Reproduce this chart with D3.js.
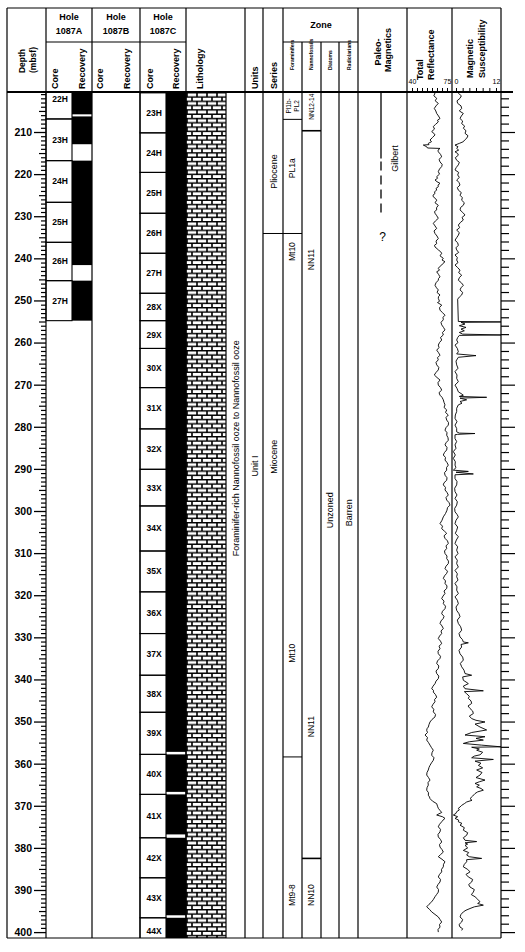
<!DOCTYPE html>
<html>
<head>
<meta charset="utf-8">
<script src="https://cdn.jsdelivr.net/npm/d3@7"></script>
<style>
  body { margin: 0; background: #fff; }
  text { font-family: "Liberation Sans", Arial, Helvetica, sans-serif; fill: #000; }
</style>
</head>
<body>
<svg id="chart" width="525" height="952"></svg>
<script>
// Site 1087 core summary, 200-400 mbsf

// cores: [name, top, bottom] in mbsf
const coresA = [['22H', 197.3, 206.9], ['23H', 206.9, 216.8], ['24H', 216.8, 226.7],
                ['25H', 226.7, 236.2], ['26H', 236.2, 245.3], ['27H', 245.3, 254.8]];
const recoveryA = [[197.3, 205.8], [206.3, 212.9], [216.8, 241.6], [245.3, 254.8]];

const coresC = [['23H', 200.7, 210.2], ['24H', 210.2, 219.6], ['25H', 219.6, 229.3],
                ['26H', 229.3, 238.8], ['27H', 238.8, 248.3], ['28X', 248.3, 254.8],
                ['29X', 254.8, 261.4], ['30X', 261.4, 270.7], ['31X', 270.7, 280.5],
                ['32X', 280.5, 290.1], ['33X', 290.1, 298.8], ['34X', 298.8, 309.5],
                ['35X', 309.5, 319.2], ['36X', 319.2, 329.1], ['37X', 329.1, 339.0],
                ['38X', 339.0, 347.8], ['39X', 347.8, 357.8], ['40X', 357.8, 367.3],
                ['41X', 367.3, 377.6], ['42X', 377.6, 387.1], ['43X', 387.1, 396.6],
                ['44X', 396.6, 406.1]];
const recoveryC = [[200.7, 357.2], [357.8, 366.7], [367.3, 376.8], [377.6, 396.0], [396.6, 406.1]];

// biostratigraphy / series
const seriesBounds = [234.1];
const seriesLabels = [['Pliocene', 219.4], ['Miocene', 287.1]];
const foramBounds = [207.0, 234.1, 358.4];
const foramLabels = [['Mt10', 238.4], ['PL1a', 218.6], ['Mt10', 333.8], ['Mt9-8', 391.2]];
const nannoBounds = [209.7, 382.5];
const nannoLabels = [['NN12-14', 204.0], ['NN11', 240.3], ['NN11', 351.2], ['NN10', 391.2]];

// paleomagnetics: solid to 216.3, dashed to 230.1
const gilbertSolid = [200.5, 216.3];
const gilbertDashed = [216.3, 230.1];

// total reflectance (%) [depth, value]
const reflectance = [
[200.6,61.5],[200.8,63.0],[201.4,61.8],[202.0,64.7],[202.6,63.2],[203.2,66.3],[203.8,64.0],[204.4,62.3],[205.0,63.8],[205.6,64.7],
[206.2,66.5],[206.8,68.0],[207.2,65.5],[207.6,66.3],[208.2,63.5],[208.7,61.3],[209.3,62.5],[209.9,59.7],[210.3,61.8],[210.7,63.0],
[211.3,60.5],[211.9,58.0],[212.3,59.5],[212.7,56.3],[213.0,57.0],[213.1,51.3],[213.5,54.7],[213.8,55.5],[213.9,68.0],[214.3,66.0],
[214.7,66.3],[215.3,68.5],[215.9,69.7],[216.5,67.0],[217.1,68.0],[217.7,70.2],[218.2,69.7],[218.8,67.5],[219.4,66.3],[220.0,67.5],
[220.6,64.7],[221.0,65.5],[221.4,63.0],[221.8,65.0],[222.2,68.0],[222.6,66.0],[223.0,66.3],[223.4,64.0],[223.8,64.7],[224.2,62.5],
[224.6,63.0],[225.0,61.0],[225.4,61.3],[225.8,63.5],[226.2,64.7],[226.8,63.0],[227.4,66.3],[228.0,64.5],[228.5,64.7],[228.9,62.5],
[229.3,63.0],[229.9,64.8],[230.5,66.3],[231.1,63.5],[231.7,61.3],[232.3,63.0],[232.9,64.7],[233.5,62.0],[234.1,63.0],[234.7,65.0],
[235.3,66.3],[235.9,64.0],[236.5,64.7],[236.9,62.5],[237.3,63.0],[237.7,65.0],[238.0,66.3],[238.4,68.5],[238.8,69.7],[239.4,68.0],
[240.0,71.3],[240.4,70.0],[240.8,73.0],[241.2,71.0],[241.6,69.7],[242.0,67.5],[242.4,66.3],[242.8,67.5],[243.2,64.7],[243.8,66.5],
[244.4,68.0],[244.8,66.5],[245.2,66.3],[245.8,64.0],[246.4,63.0],[247.0,64.5],[247.5,66.3],[248.1,65.0],[248.7,68.0],[249.1,66.5],
[249.5,66.3],[250.2,67.5],[250.5,65.5],[251.1,69.7],[251.7,67.5],[252.3,68.0],[252.9,70.5],[253.5,73.0],[254.0,71.0],[254.6,71.3],
[255.2,69.0],[255.8,69.7],[256.4,71.5],[257.0,73.0],[257.6,70.5],[258.2,71.3],[258.8,68.5],[259.4,69.7],[260.0,67.5],[260.6,66.3],
[261.2,67.0],[261.8,64.7],[262.4,66.5],[263.0,68.0],[263.6,65.5],[264.1,66.3],[264.7,64.0],[265.3,64.7],[265.9,66.8],[266.5,66.3],
[267.1,64.0],[267.7,62.3],[268.3,65.0],[268.9,68.0],[269.5,66.0],[270.1,66.3],[270.7,68.5],[271.3,69.7],[271.9,67.0],[272.5,68.0],
[273.0,70.0],[273.6,71.3],[274.2,72.0],[274.8,73.0],[275.4,72.0],[276.0,74.7],[276.6,73.5],[277.2,76.3],[277.8,74.0],[278.4,74.7],
[279.0,76.5],[279.6,76.3],[280.2,74.0],[280.8,73.0],[281.4,75.0],[282.0,74.7],[282.6,76.0],[283.2,76.3],[283.8,74.0],[284.3,73.0],
[284.9,75.0],[285.5,74.7],[286.1,72.5],[286.7,71.3],[287.3,73.5],[287.9,73.0],[288.5,75.0],[289.1,76.3],[289.7,74.5],[290.3,74.7],
[290.9,72.5],[291.5,73.0],[292.1,75.0],[292.7,74.7],[293.3,72.0],[293.8,71.3],[294.4,73.5],[295.0,73.0],[295.6,75.0],[296.2,76.3],
[296.8,74.0],[297.4,74.7],[298.0,77.0],[298.6,78.0],[299.2,75.5],[299.8,75.0],[300.6,73.5],[301.4,71.3],[302.2,70.0],[303.0,68.0],
[303.6,70.5],[304.2,69.7],[304.8,72.5],[305.3,74.7],[305.9,72.0],[306.5,73.0],[307.1,75.5],[307.7,76.3],[308.3,74.0],[308.9,74.7],
[309.5,72.5],[310.1,73.0],[310.7,75.0],[311.3,74.7],[311.9,76.5],[312.5,76.3],[313.1,74.0],[313.7,73.0],[314.3,75.5],[314.8,74.7],
[315.4,72.5],[316.0,71.3],[316.6,73.5],[317.2,73.0],[317.8,75.0],[318.4,74.7],[319.0,72.0],[319.6,73.0],[320.2,71.0],[320.8,69.7],
[321.4,72.0],[322.0,71.3],[322.6,73.5],[323.2,73.0],[323.8,70.5],[324.4,69.7],[325.0,72.0],[325.5,71.3],[326.1,69.0],[326.7,68.0],
[327.3,70.0],[327.9,71.3],[328.5,69.0],[329.1,69.7],[329.7,67.5],[330.3,66.3],[330.9,68.5],[331.5,69.7],[332.1,67.0],[332.7,68.0],
[333.3,66.0],[333.9,66.3],[334.5,68.5],[335.0,68.0],[335.6,65.5],[336.2,64.7],[336.8,66.8],[337.4,66.3],[338.0,64.0],[338.6,64.7],
[339.2,66.8],[339.8,66.3],[340.4,64.0],[341.0,63.0],[341.6,61.0],[342.2,59.7],[342.6,61.5],[343.0,61.3],[343.6,63.5],[344.2,64.7],
[344.8,62.5],[345.3,63.0],[345.9,61.0],[346.5,59.7],[347.1,61.8],[347.7,61.3],[348.3,63.5],[348.9,63.0],[349.5,60.0],[350.1,58.0],
[350.7,57.0],[351.3,56.3],[351.7,55.0],[352.1,54.7],[352.6,55.5],[353.2,53.0],[353.8,55.5],[354.4,54.7],[355.0,56.5],[355.6,58.0],
[356.2,59.5],[356.8,61.3],[357.4,60.0],[358.0,59.7],[358.6,62.0],[359.2,61.3],[359.8,59.5],[360.4,58.0],[360.9,57.0],[361.5,56.3],
[362.1,55.0],[362.7,54.7],[363.3,56.5],[363.9,58.0],[364.5,56.0],[365.1,56.3],[365.7,55.0],[366.3,54.7],[366.9,56.5],[367.5,56.3],
[367.9,57.5],[368.3,58.0],[368.9,60.5],[369.5,64.7],[370.1,65.5],[370.6,66.3],[371.1,68.0],[371.6,69.7],[371.9,67.0],[372.2,64.7],
[372.6,70.5],[373.0,73.0],[373.4,71.0],[373.8,69.7],[374.4,67.5],[375.0,66.3],[375.6,68.5],[376.2,68.0],[376.8,66.0],[377.4,66.3],
[378.0,68.5],[378.6,69.7],[379.2,67.5],[379.8,68.0],[380.4,70.0],[381.0,71.3],[381.6,68.5],[382.1,66.3],[382.7,70.0],[383.3,73.0],
[383.9,71.5],[384.5,71.3],[385.1,69.5],[385.7,69.7],[386.3,67.5],[386.9,66.3],[387.5,68.5],[388.1,68.0],[388.7,66.0],[389.3,64.7],
[389.9,66.5],[390.5,66.3],[391.1,64.5],[391.6,63.0],[392.2,61.5],[392.8,59.7],[393.4,57.0],[394.0,54.7],[394.6,57.5],[395.2,59.7],
[395.8,63.0],[396.4,66.3],[397.0,68.0],[397.6,69.7],[398.2,67.5],[398.8,68.0],[399.4,66.0],[400.0,66.3]
];

// magnetic susceptibility [depth, value]
const magSus = [
[200.6,0.5],[200.8,0.7],[201.4,1.6],[202.0,1.2],[202.6,0.3],[203.2,0.5],[203.8,1.5],[204.4,1.7],[205.0,1.0],[205.6,2.2],
[206.2,1.6],[206.8,1.2],[207.4,2.0],[208.0,1.7],[208.6,2.6],[209.1,2.2],[209.7,3.0],[210.3,2.7],[210.9,3.6],[211.5,3.2],
[211.9,2.6],[212.3,2.2],[212.7,1.0],[213.1,-0.3],[213.5,0.6],[213.9,0.2],[214.3,0.8],[214.7,-0.3],[215.1,0.5],[215.5,0.7],
[216.1,-0.2],[216.7,0.2],[217.2,1.0],[217.8,0.7],[218.4,0.1],[219.0,-0.3],[219.6,0.8],[220.2,0.5],[220.8,1.0],[221.4,0.2],
[222.0,0.9],[222.6,1.2],[223.2,0.4],[223.8,0.7],[224.4,1.6],[225.0,1.2],[225.6,1.9],[226.2,1.7],[226.8,2.5],[227.4,2.2],
[227.9,1.4],[228.5,1.2],[229.1,2.0],[229.7,2.7],[230.3,1.8],[230.9,2.2],[231.5,1.3],[232.1,0.7],[232.7,1.1],[233.3,0.2],
[233.9,1.0],[234.5,0.7],[235.1,0.2],[235.7,-0.3],[236.3,0.5],[236.9,0.7],[237.5,0.0],[238.0,0.2],[238.6,0.8],[239.2,-0.3],
[239.8,0.4],[240.4,0.2],[241.0,0.6],[241.6,-0.3],[242.2,0.5],[242.8,1.2],[243.4,0.8],[244.0,1.7],[244.6,1.0],[245.2,0.7],
[245.8,1.6],[246.4,2.2],[247.0,1.5],[247.5,1.2],[248.1,2.0],[248.7,1.7],[249.2,1.0],[249.7,0.5],
[255.0,0.7],[255.1,13.5],[255.2,1.5],[255.6,2.7],[256.0,1.0],[256.4,3.0],[256.8,1.5],[257.2,2.5],[257.6,1.0],[258.0,2.0],
[258.2,13.5],[258.3,1.0],[258.8,0.5],[259.4,0.2],[260.0,0.6],[260.6,-0.3],[261.4,0.4],[262.2,0.7],[262.7,0.2],[263.1,6.0],
[263.5,0.7],[264.4,0.0],[265.3,0.2],[266.1,0.6],[266.9,-0.3],[267.7,0.3],[268.5,0.2],[269.3,0.7],[270.1,-0.3],[270.9,0.3],
[271.7,0.7],[272.1,1.5],[272.5,2.2],[272.8,1.0],[273.0,9.2],[273.2,1.2],[273.3,1.7],[273.6,3.2],[274.0,1.2],[274.4,1.8],
[274.8,0.7],[275.6,0.2],[276.4,0.2],[277.2,-0.2],[278.0,-0.3],[278.8,0.3],[279.6,-0.3],[280.4,0.2],[281.2,0.2],[281.5,1.0],
[281.6,5.7],[281.8,0.5],[281.9,-0.3],[282.8,-0.3],[283.5,0.2],[284.3,-0.3],[285.1,0.0],[285.9,-0.8],[286.7,-0.2],[287.5,-0.8],
[288.3,-0.2],[289.1,-0.3],[289.7,0.0],[290.3,-0.8],[290.6,3.7],[290.8,0.0],[291.2,5.2],[291.4,-0.3],[292.3,-0.3],[293.0,0.3],
[293.8,0.2],[294.6,-0.4],[295.4,-0.3],[296.2,0.3],[297.0,-0.3],[297.8,0.4],[298.6,0.2],[299.4,-0.4],[300.2,-0.3],[300.8,0.3],
[301.4,0.7],[302.2,0.0],[303.0,-0.3],[303.8,0.5],[304.6,0.2],[305.3,-0.2],[306.1,0.7],[306.9,0.1],[307.7,-0.3],[308.5,0.5],
[309.3,0.2],[310.1,0.6],[310.9,-0.3],[311.7,0.4],[312.5,0.2],[313.3,0.7],[314.1,-0.3],[314.9,0.4],[315.6,0.2],[316.4,0.6],
[317.2,-0.3],[318.0,0.3],[318.8,0.2],[319.6,0.7],[320.4,-0.3],[321.2,0.4],[322.0,0.7],[322.8,0.0],[323.6,0.2],[324.4,0.9],
[325.1,1.2],[325.9,0.4],[326.7,0.7],[327.5,1.4],[328.3,1.7],[329.1,0.9],[329.9,1.2],[330.5,1.9],[331.1,2.2],[331.3,3.7],
[331.7,1.5],[332.3,1.7],[333.1,0.9],[333.9,1.2],[334.7,2.0],[335.4,2.2],[336.2,1.3],[337.0,1.7],[337.8,2.4],[338.6,2.7],
[339.0,4.7],[339.4,2.0],[340.2,2.2],[340.6,3.0],[341.0,3.7],[341.6,2.2],[342.2,2.7],[342.7,8.2],[342.9,2.5],[343.4,3.2],
[344.0,4.0],[344.5,3.7],[345.1,4.5],[345.7,4.7],[346.3,3.6],[346.9,4.2],[347.5,5.0],[348.1,5.2],[348.7,4.0],[349.3,4.7],
[349.7,6.0],[350.1,8.7],[350.6,5.7],[351.3,7.2],[352.0,9.2],[352.6,4.7],[353.2,2.7],[353.6,8.7],[354.0,6.0],[354.4,8.2],
[354.8,4.0],[355.2,2.2],[355.6,7.7],[356.0,13.5],[356.1,4.7],[356.5,7.0],[356.8,6.2],[357.3,8.0],[357.9,7.2],[358.2,5.5],
[358.6,4.7],[359.0,11.2],[359.4,5.7],[359.9,7.5],[360.4,6.7],[361.0,8.0],[361.5,6.2],[362.1,7.8],[362.7,7.2],[363.3,6.0],
[363.9,8.7],[364.3,7.0],[364.7,5.7],[365.1,7.0],[365.5,6.2],[365.9,7.5],[366.3,8.2],[366.7,6.5],[367.1,5.7],[367.7,5.0],
[368.3,4.2],[368.7,4.8],[369.1,3.2],[369.5,2.5],[369.9,1.7],[370.3,1.2],[370.6,0.7],[371.0,1.0],[371.4,0.2],[371.8,0.0],
[372.2,-0.8],[372.6,0.5],[373.0,-0.3],[373.4,0.8],[373.8,0.7],[374.2,1.8],[374.6,1.2],[375.2,2.5],[375.8,2.2],[376.4,3.5],
[377.0,3.2],[377.6,2.2],[378.2,2.7],[378.5,6.2],[378.8,2.7],[379.1,3.5],[379.4,2.7],[380.0,3.5],[380.6,2.2],[381.1,3.8],
[381.7,3.2],[382.1,4.0],[382.5,7.7],[382.8,3.2],[383.3,3.2],[383.9,2.5],[384.5,2.2],[385.1,3.5],[385.7,4.2],[386.3,3.0],
[386.9,3.7],[387.5,5.0],[388.1,4.7],[388.7,3.8],[389.3,4.2],[389.9,5.5],[390.5,5.2],[391.1,4.6],[391.6,5.7],[392.2,6.5],
[392.8,7.2],[393.2,6.5],[393.6,8.2],[394.0,5.5],[394.4,4.2],[394.8,3.0],[395.2,2.2],[395.8,1.5],[396.4,1.2],[397.0,2.0],
[397.6,1.7],[398.2,0.9],[398.8,1.2],[399.2,2.0],[399.6,1.7]
];

const reflTicks = [40, 45, 50, 55, 60, 65, 70, 75];
const magTicks = [0, 2, 4, 6, 8, 10, 12];

// ---- layout ----
const svg = d3.select('#chart');
const yTop = 92, yBottom = 938, frameTop = 8;
const X = { left: 7, depth: 46, aRec: 72, holeB: 92, holeC: 140, cRec: 166, lith: 186, lithEnd: 226,
            units: 245, series: 263, foram: 283, nanno: 302, diat: 321, rad: 339, pmag: 358,
            refl: 407, mag: 452, right: 501 };

const y = d3.scaleLinear().domain([200.5, 401.4]).range([yTop, yBottom]);
const xRefl = d3.scaleLinear().domain([40, 75]).range([412, 447]);
const xMag = d3.scaleLinear().domain([0, 12]).range([456, 496]);

const defs = svg.append('defs');
const pat = defs.append('pattern').attr('id', 'chalk').attr('patternUnits', 'userSpaceOnUse')
  .attr('x', X.lith).attr('y', yTop).attr('width', 10).attr('height', 8.6);
pat.append('rect').attr('width', 10).attr('height', 8.6).attr('fill', '#fff');
pat.append('path')
  .attr('d', 'M0,0.7H10M0,5H10M1,0.7V5M6,5V8.6M6,0V0.7')
  .attr('stroke', '#000').attr('stroke-width', 1.6).attr('fill', 'none');

defs.append('clipPath').attr('id', 'clipBody').append('rect')
  .attr('x', 0).attr('y', yTop).attr('width', 525).attr('height', yBottom - yTop);
defs.append('clipPath').attr('id', 'clipRefl').append('rect')
  .attr('x', X.refl).attr('y', yTop).attr('width', X.mag - X.refl).attr('height', yBottom - yTop);
defs.append('clipPath').attr('id', 'clipMag').append('rect')
  .attr('x', X.mag).attr('y', yTop).attr('width', X.right - X.mag).attr('height', yBottom - yTop);

const body = svg.append('g').attr('clip-path', 'url(#clipBody)');

// lithology
body.append('rect').attr('x', X.lith).attr('y', yTop).attr('width', X.lithEnd - X.lith)
  .attr('height', yBottom - yTop).attr('fill', 'url(#chalk)').attr('stroke', '#000').attr('stroke-width', 1.2);

// recovery
function drawRecovery(list, x0, x1) {
  body.append('g').selectAll('rect').data(list).enter().append('rect')
    .attr('x', x0).attr('width', x1 - x0)
    .attr('y', d => y(d[0])).attr('height', d => y(d[1]) - y(d[0]))
    .attr('fill', '#000');
}
drawRecovery(recoveryA, X.aRec, X.holeB);
drawRecovery(recoveryC, X.cRec, X.lith);

// core boxes
function drawCores(list, x0, x1) {
  const g = body.append('g');
  g.selectAll('rect').data(list).enter().append('rect')
    .attr('x', x0).attr('width', x1 - x0)
    .attr('y', d => y(d[1])).attr('height', d => y(d[2]) - y(d[1]))
    .attr('fill', 'none').attr('stroke', '#000').attr('stroke-width', 1.1);
  g.selectAll('text').data(list).enter().append('text')
    .attr('x', (x0 + x1) / 2 + 1)
    .attr('y', d => y(Math.max(202.1, Math.min(399.8, (d[1] + d[2]) / 2))))
    .attr('dy', '0.35em').attr('text-anchor', 'middle')
    .style('font-size', '8.5px').style('font-weight', 'bold')
    .text(d => d[0]);
}
drawCores(coresA, X.depth, X.aRec);
drawCores(coresC, X.holeC, X.cRec);

// zone boundaries
function hLines(list, x0, x1, w) {
  body.append('g').selectAll('line').data(list).enter().append('line')
    .attr('x1', x0).attr('x2', x1).attr('y1', d => y(d)).attr('y2', d => y(d))
    .attr('stroke', '#000').attr('stroke-width', w || 1);
}
hLines(seriesBounds, X.series, X.foram);
hLines(foramBounds, X.foram, X.nanno);
hLines(nannoBounds, X.nanno, X.diat, 1.6);

// rotated text helper
function vText(x, yy, str, size, weight, anchor) {
  return svg.append('text')
    .attr('transform', `translate(${x},${yy}) rotate(-90)`)
    .attr('text-anchor', anchor || 'middle').attr('dy', '0.35em')
    .style('font-size', size + 'px').style('font-weight', weight || 'normal')
    .text(str);
}

seriesLabels.forEach(d => vText(273.5, y(d[1]), d[0], 9));
foramLabels.forEach(d => vText(292.5, y(d[1]), d[0], 8.5));
vText(288.5, y(203.8), 'Pl1b-', 6.5);
vText(296.5, y(203.8), 'PL2', 6.5);
nannoLabels.forEach(d => vText(311.5, y(d[1]), d[0], d[0] === 'NN12-14' ? 6.5 : 8.5));
vText(330, y(299.8), 'Unzoned', 9);
vText(349, y(300.4), 'Barren', 9);
vText(254.5, y(289.3), 'Unit I', 9);
vText(236, y(285.1), 'Foraminifer-rich Nannofossil ooze to Nannofossil ooze', 9);

// paleomagnetics
svg.append('line').attr('x1', 381).attr('x2', 381)
  .attr('y1', y(gilbertSolid[0])).attr('y2', y(gilbertSolid[1]))
  .attr('stroke', '#000').attr('stroke-width', 1.3);
svg.append('line').attr('x1', 381).attr('x2', 381)
  .attr('y1', y(gilbertDashed[0]) + 3).attr('y2', y(gilbertDashed[1]))
  .attr('stroke', '#000').attr('stroke-width', 1.3).attr('stroke-dasharray', '9,5');
vText(395, y(216.3), 'Gilbert', 9);
svg.append('text').attr('x', 382.5).attr('y', y(234.9)).attr('dy', '0.35em')
  .attr('text-anchor', 'middle').style('font-size', '12px').text('?');

// curves
body.append('path').datum(reflectance).attr('clip-path', 'url(#clipRefl)')
  .attr('d', d3.line().x(d => xRefl(d[1])).y(d => y(d[0])))
  .attr('fill', 'none').attr('stroke', '#000').attr('stroke-width', 0.9);
body.append('path').datum(magSus).attr('clip-path', 'url(#clipMag)')
  .attr('d', d3.line().x(d => xMag(d[1])).y(d => y(d[0])))
  .attr('fill', 'none').attr('stroke', '#000').attr('stroke-width', 0.9);

// depth axis
function styleAxis(g, w) {
  g.select('.domain').remove();
  g.selectAll('line').attr('stroke', '#000').attr('stroke-width', w);
  g.selectAll('text').style('font-size', '10.5px').style('font-weight', 'bold')
    .style('font-family', '"Liberation Sans", Arial, sans-serif');
}
const every = d3.range(201, 401);
svg.append('g').attr('transform', `translate(${X.depth},0)`)
  .call(d3.axisLeft(y).tickValues(every.filter(d => d % 5 !== 0)).tickSize(5).tickFormat(''))
  .call(g => styleAxis(g, 1.2));
svg.append('g').attr('transform', `translate(${X.depth},0)`)
  .call(d3.axisLeft(y).tickValues(every.filter(d => d % 5 === 0 && d % 10 !== 0)).tickSize(7).tickFormat(''))
  .call(g => styleAxis(g, 1.2));
svg.append('g').attr('transform', `translate(${X.depth},0)`)
  .call(d3.axisLeft(y).tickValues(d3.range(210, 401, 10)).tickSize(12).tickPadding(2).tickFormat(d3.format('d')))
  .call(g => styleAxis(g, 1.3));

// right tick scale
svg.append('g').attr('transform', `translate(${X.right},0)`)
  .call(d3.axisRight(y).tickValues(d3.range(202, 401, 2).filter(d => d % 10 !== 0)).tickSize(8).tickFormat(''))
  .call(g => styleAxis(g, 1.2));
svg.append('g').attr('transform', `translate(${X.right},0)`)
  .call(d3.axisRight(y).tickValues(d3.range(210, 401, 10)).tickSize(14).tickFormat(''))
  .call(g => styleAxis(g, 1.2));

// header scales
function headerAxis(scale, ticks, ends) {
  svg.append('g').attr('transform', `translate(0,${yTop})`)
    .call(d3.axisTop(scale).tickValues(ticks).tickSize(4).tickPadding(4)
      .tickFormat(d => ends.includes(d) ? d : ''))
    .call(g => {
      g.select('.domain').remove();
      g.selectAll('line').attr('stroke', '#000').attr('stroke-width', 1);
      g.selectAll('text').style('font-size', '7px')
        .style('font-family', '"Liberation Sans", Arial, sans-serif');
    });
}
headerAxis(xRefl, reflTicks, [40, 75]);
headerAxis(xMag, magTicks, [0, 12]);

// frame and column lines
const grid = svg.append('g').attr('stroke', '#000').attr('stroke-width', 1.2);
[X.left, X.depth, X.holeB, X.holeC, X.lith, X.units, X.series, X.foram, X.pmag, X.refl, X.mag, X.right]
  .forEach(x => grid.append('line').attr('x1', x).attr('x2', x).attr('y1', frameTop).attr('y2', yBottom));
[X.nanno, X.diat, X.rad]
  .forEach(x => grid.append('line').attr('x1', x).attr('x2', x).attr('y1', 42).attr('y2', yBottom));
grid.append('line').attr('x1', X.left).attr('x2', X.right).attr('y1', frameTop).attr('y2', frameTop);
grid.append('line').attr('x1', X.left).attr('x2', X.right).attr('y1', yBottom).attr('y2', yBottom);
grid.append('line').attr('x1', X.depth).attr('x2', X.lith).attr('y1', 42).attr('y2', 42);
grid.append('line').attr('x1', X.foram).attr('x2', X.pmag).attr('y1', 42).attr('y2', 42);
grid.append('line').attr('x1', X.left).attr('x2', 513).attr('y1', yTop).attr('y2', yTop).attr('stroke-width', 2);

// header labels
function hText(x, yy, str, size, weight) {
  svg.append('text').attr('x', x).attr('y', yy).attr('text-anchor', 'middle')
    .style('font-size', size + 'px').style('font-weight', weight || 'bold').text(str);
}
[['1087A', 69], ['1087B', 116], ['1087C', 163]].forEach(d => {
  hText(d[1], 20, 'Hole', 9);
  hText(d[1], 34, d[0], 9);
});
hText(321, 28, 'Zone', 9);

vText(22.5, 61, 'Depth', 8.5, 'bold');
vText(33, 60, '(mbsf)', 8.5, 'bold');
[[55, 'Core'], [82, 'Recovery'], [100, 'Core'], [127, 'Recovery'], [150, 'Core'], [176, 'Recovery'],
 [200, 'Lithology'], [254.5, 'Units'], [274, 'Series']]
  .forEach(d => vText(d[0], 89, d[1], 9, 'bold', 'start'));
[[292, 'Foraminifers'], [311, 'Nannofossils'], [330, 'Diatoms'], [349, 'Radiolarians']]
  .forEach(d => vText(d[0], 70, d[1], 5, 'bold', 'start'));
vText(378, 52, 'Paleo-', 9, 'bold');
vText(388, 50, 'Magnetics', 9, 'bold');
vText(420, 80, 'Total', 9, 'bold', 'start');
vText(431, 80, 'Reflectance', 9, 'bold', 'start');
vText(470, 78, 'Magnetic', 9, 'bold', 'start');
vText(482, 78, 'Susceptibility', 9, 'bold', 'start');
</script>
</body>
</html>
